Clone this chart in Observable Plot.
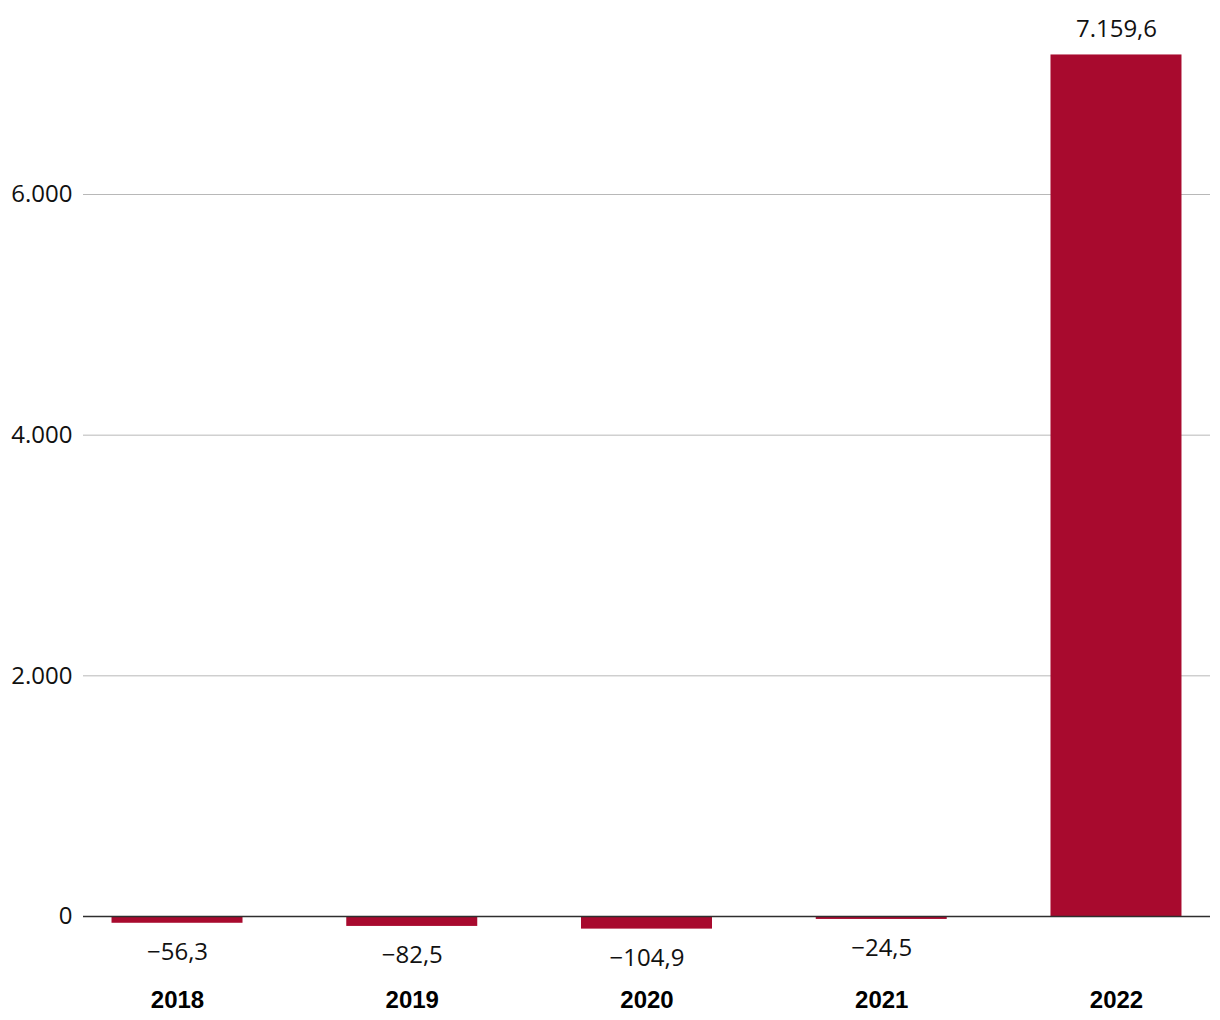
<!DOCTYPE html>
<html>
<head>
<meta charset="utf-8">
<script src="https://cdn.jsdelivr.net/npm/d3@7"></script>
<script src="https://cdn.jsdelivr.net/npm/@observablehq/plot@0.6"></script>
<style>
  body { margin: 0; background: #fff; }
  #chart svg { display: block; }
</style>
</head>
<body>
<div id="chart"></div>
<script>
const years = ["2018", "2019", "2020", "2021", "2022"];
const values = [-56.3, -82.5, -104.9, -24.5, 7159.6];
const yTicks = [0, 2000, 4000, 6000];

const data = years.map((year, i) => ({year, value: values[i]}));

const loc = d3.formatLocale({decimal: ",", thousands: ".", grouping: [3], currency: ["", "€"], minus: "\u2212"});
const fmtVal = loc.format(",.1f");
const fmtTick = loc.format(",.0f");

const chart = Plot.plot({
  width: 1220,
  height: 1020,
  marginLeft: 83,
  marginRight: 10,
  marginTop: 20,
  marginBottom: 60,
  style: {fontFamily: "'Open Sans', sans-serif", fontSize: "24px", color: "#111", background: "#fff"},
  x: {domain: years, paddingInner: 0.442, paddingOuter: 0.1215, round: false, label: null},
  y: {domain: [-365.7, 7446], label: null},
  marks: [
    Plot.ruleY(yTicks.filter(d => d !== 0), {stroke: "#b8b8b8", strokeWidth: 1}),
    Plot.axisY({ticks: yTicks, tickFormat: fmtTick, tickSize: 0, tickPadding: 11, label: null, fontSize: 24}),
    Plot.barY(data, {x: "year", y: "value", fill: "#a80a2e"}),
    Plot.ruleY([0], {stroke: "#2e2e2e", strokeWidth: 1.6}),
    Plot.text(data.filter(d => d.value >= 0), {x: "year", y: "value", text: d => fmtVal(d.value), dy: -26, fontSize: 24, fill: "#111"}),
    Plot.text(data.filter(d => d.value < 0), {x: "year", y: "value", text: d => fmtVal(d.value), dy: 29, fontSize: 24, fill: "#111"}),
    Plot.axisX({tickSize: 0, tickPadding: 30, label: null, fontSize: 24, fontWeight: "bold", fontFamily: "'Liberation Sans', Arial, sans-serif", fill: "#000"})
  ]
});
document.getElementById("chart").appendChild(chart);
</script>
</body>
</html>
